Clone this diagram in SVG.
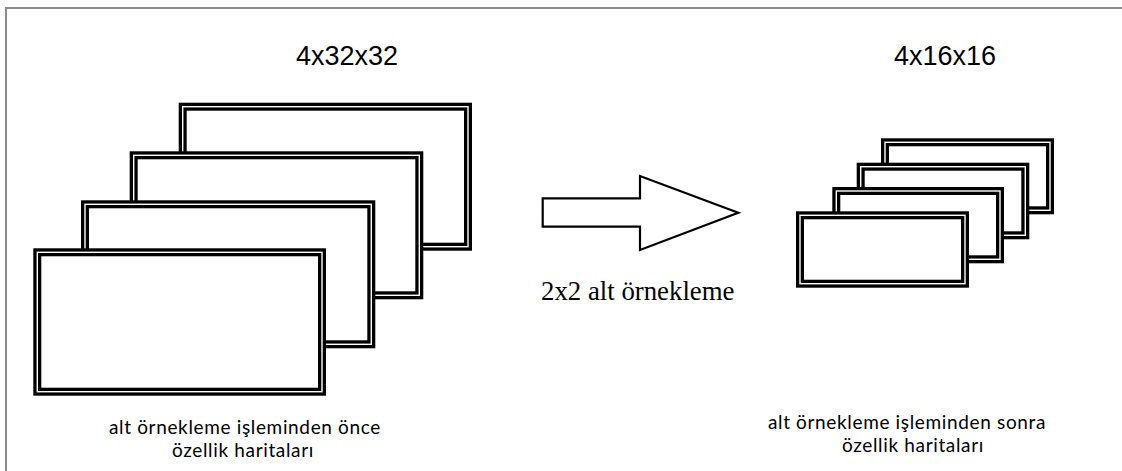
<svg xmlns="http://www.w3.org/2000/svg" width="1122" height="471" viewBox="0 0 1122 471">
  <style>
    .frame { fill: none; stroke: #8a8a8a; stroke-width: 2; }
    .map { fill: #ffffff; stroke: #000000; stroke-width: 8; }
    .gap { fill: none; stroke: #ffffff; stroke-width: 1.4; }
    .dim { font-family: "Liberation Sans", Arial, sans-serif; font-size: 27px; fill: #000000; }
    .op { font-family: "Liberation Serif", "Times New Roman", serif; font-size: 26.8px; fill: #000000; }
    .cap { font-family: Lato, "Open Sans", sans-serif; font-size: 19px; letter-spacing: 0.65px; fill: #000000; text-anchor: middle; }
    .arrow { fill: #ffffff; stroke: #000000; stroke-width: 2.2; stroke-linejoin: miter; }
  </style>

  <rect width="1122" height="471" fill="#ffffff"/>
  <!-- outer frame (top and left edges only visible) -->
  <path class="frame" d="M6,471 V8 H1122"/>

  <!-- input feature maps: 4 stacked 32x32 maps, back to front -->
  <g id="input-maps">
    <g id="in-map-4">
      <rect class="map" x="182.7" y="106.7" width="285.3" height="140"/>
      <rect class="gap" x="182.7" y="106.7" width="285.3" height="140"/>
    </g>
    <g id="in-map-3">
      <rect class="map" x="133.7" y="155.3" width="285.6" height="140"/>
      <rect class="gap" x="133.7" y="155.3" width="285.6" height="140"/>
    </g>
    <g id="in-map-2">
      <rect class="map" x="85" y="204.3" width="286.3" height="140"/>
      <rect class="gap" x="85" y="204.3" width="286.3" height="140"/>
    </g>
    <g id="in-map-1">
      <rect class="map" x="37.3" y="252.3" width="284.7" height="139.4"/>
      <rect class="gap" x="37.3" y="252.3" width="284.7" height="139.4"/>
    </g>
    <text class="dim" x="296" y="65">4x32x32</text>
    <text class="cap" x="245" y="434">alt örnekleme işleminden önce</text>
    <text class="cap" x="243" y="457">özellik haritaları</text>
  </g>

  <!-- output feature maps: 4 stacked 16x16 maps, back to front -->
  <g id="output-maps">
    <g id="out-map-4">
      <rect class="map" x="885" y="142.3" width="165" height="68"/>
      <rect class="gap" x="885" y="142.3" width="165" height="68"/>
    </g>
    <g id="out-map-3">
      <rect class="map" x="860.7" y="166.7" width="164.6" height="68.6"/>
      <rect class="gap" x="860.7" y="166.7" width="164.6" height="68.6"/>
    </g>
    <g id="out-map-2">
      <rect class="map" x="836.3" y="191" width="163.7" height="68.3"/>
      <rect class="gap" x="836.3" y="191" width="163.7" height="68.3"/>
    </g>
    <g id="out-map-1">
      <rect class="map" x="800" y="215.3" width="165" height="68.4"/>
      <rect class="gap" x="800" y="215.3" width="165" height="68.4"/>
    </g>
    <text class="dim" x="894" y="65">4x16x16</text>
    <text class="cap" x="907" y="429">alt örnekleme işleminden sonra</text>
    <text class="cap" x="913" y="452">özellik haritaları</text>
  </g>

  <!-- downsampling step -->
  <g id="connectors">
    <polygon class="arrow" points="542.7,198.3 640,198.3 640,176 738.3,212.7 640,250 640,226.7 542.7,226.7"/>
    <text class="op" x="541" y="300">2x2 alt örnekleme</text>
  </g>
</svg>
